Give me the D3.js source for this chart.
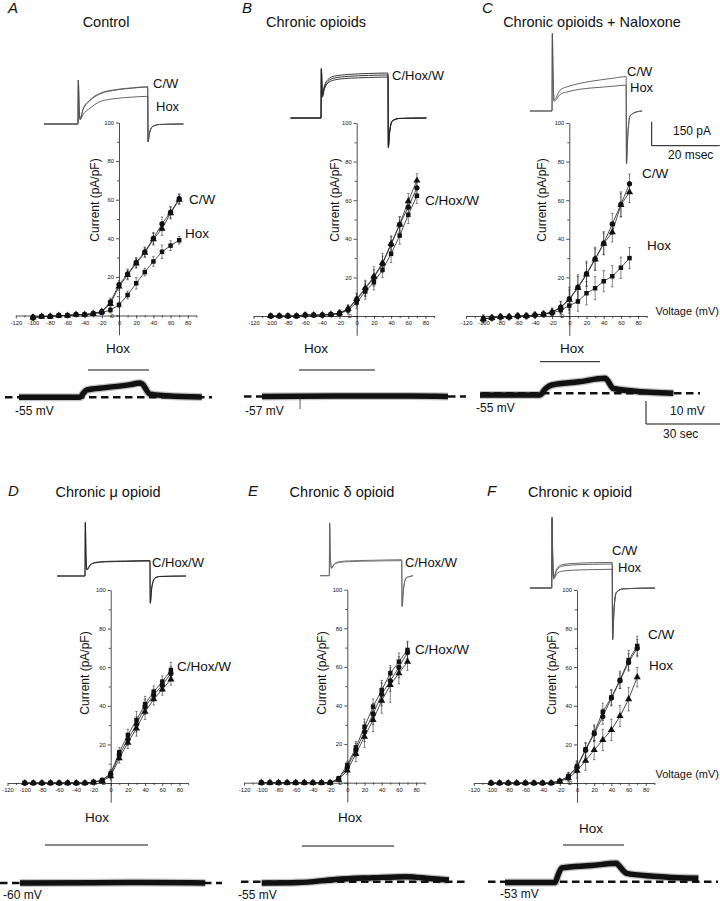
<!DOCTYPE html>
<html><head><meta charset="utf-8">
<script src="https://cdn.jsdelivr.net/npm/d3@7"></script>
<style>
body{margin:0;background:#fff}
svg{display:block}
text{font-family:Arial,"Liberation Sans",sans-serif;fill:#111}
</style></head>
<body><svg id="c" width="720" height="901"></svg>
<script>
// ---------- DATA ----------
const voltages = [-100,-90,-80,-70,-60,-50,-40,-30,-20,-10,0,10,20,30,40,50,60,70];
const xTicks = [-120,-100,-80,-60,-40,-20,0,20,40,60,80];
const yTicks = [0,20,40,60,80,100];

// Panel A: Control
const A_C   = [-1,-0.5,-0.5,0,0,0.5,0.5,1,2,7,16,21.5,27.5,33,40,47.5,53.5,60.5];
const A_W   = [-1,-0.5,-0.5,0,0,0.5,0.5,1,2,6,15,21,27,32.5,39.5,45,53,60];
const A_Hox = [-1,-0.5,-0.5,0,0,0.5,0.5,1,1.5,2.8,5.5,10.6,16.7,22.5,28,33,36.2,39];
const A_C_err   = [1.5,1,1,1,1,0.8,0.8,1,1,2,2,2.5,2.5,2.5,3,3.5,3,2.5];
const A_W_err   = [1.5,1,1,1,1,0.8,0.8,1,1,2,2,2.5,2.5,2.5,3,3.5,3,2.5];
const A_Hox_err = [1.5,1,1,1,1,0.8,0.8,1,1,1.5,1.5,2,3,2,2.5,3.5,2.5,2];
// Panel B: Chronic opioids
const B_C   = [0,0,0,0,0.5,0.5,0.5,0.8,1.5,3.5,8.4,14,20,27,37,47.4,56.4,66.4];
const B_W   = [0,0,0,0,0.5,0.5,0.5,0.8,1.5,3.8,8.8,14.5,20.5,27.5,37.5,47.4,59.5,70.2];
const B_Hox = [0,0,0,0,0.5,0.5,0.5,0.8,1.2,3,7,12.7,17.5,23.9,32.2,41.7,52.4,62.3];
const B_C_err   = [1,1,1,1,1,1,1,1,1.5,2,3,4,4,4,4,4,4,3.5];
const B_W_err   = [1,1,1,1,1,1,1,1,1.5,2,3,4,5,5,4,4,4,3.5];
const B_Hox_err = [1,1,1,1,1,1,1,1,1.5,2,3,4,4,4,4.5,4.5,4.5,4];
// Panel C: Chronic opioids + Naloxone
const C_C   = [-1.5,-1,-0.5,-0.5,0,0,0.5,1,2,4.6,8.9,14.9,21.9,29.6,37.7,47.7,57.8,68.5];
const C_W   = [-1.5,-1,-0.5,-0.5,0,0,0.5,1,2,4.3,8.5,14.5,21.5,29.3,37.5,43.4,57.5,64.2];
const C_Hox = [-1.5,-1,-0.5,-0.5,0,0,0.5,1,1.5,3,5.4,7.5,11.8,14.4,18,20.6,25,30];
const C_C_err   = [2,1.5,1.5,1.5,1.5,1.5,1.5,1.5,2,3,6,6.5,6.5,6,6,5.5,6.5,5];
const C_W_err   = [2,1.5,1.5,1.5,1.5,1.5,1.5,1.5,2,3,5,6,6,5.5,5.5,5,6,5.5];
const C_Hox_err = [1.5,1,1,1,1,1,1,1,1.5,2.5,4,5,6,6,5.5,5.5,5.5,5.5];
// Panel D: Chronic mu opioid
const D_C   = [0,0,0,0,0,0,0,0,0.5,1.5,5,15.9,24.9,32.6,40.9,47.3,52.5,58.5];
const D_W   = [0,0,0,0,0,0,0,0,0.5,1.3,4.5,14.5,22.6,30.4,39.5,45.6,50.7,56.8];
const D_Hox = [0,0,0,0,0,0,0,0,0.3,1,3.5,12.8,20.9,28.3,36.9,43.4,48.5,53.7];
const D_C_err   = [0.5,0.5,0.5,0.5,0.5,0.5,0.5,0.5,0.8,1,2,2.5,3,4.5,4,3,3,4];
const D_W_err   = [0.5,0.5,0.5,0.5,0.5,0.5,0.5,0.5,0.8,1,2,2.5,3,4,4,3,3,3.5];
const D_Hox_err = [0.5,0.5,0.5,0.5,0.5,0.5,0.5,0.5,0.8,1,2,2.5,3,4,4,3,3,3];
// Panel E: Chronic delta opioid
const E_C   = [0,0,0,0,0,0,0,0,0,2.3,9.2,18.3,29,39.4,48,56.7,62.7,68.8];
const E_W   = [0,0,0,0,0,0,0,0,0,2,8,16.9,26.4,35.6,45.8,52.8,59.8,67.4];
const E_Hox = [0,0,0,0,0,0,0,0,0,1.5,6.4,14.9,23.8,32.5,42.5,50.6,56.7,62.7];
const E_C_err   = [0.5,0.5,0.5,0.5,0.5,0.5,0.5,0.5,0.8,1,2,3,4,4,5,4,4.5,4.5];
const E_W_err   = [0.5,0.5,0.5,0.5,0.5,0.5,0.5,0.5,0.8,1,2,3.5,5,5.5,6,5.5,5.5,5];
const E_Hox_err = [0.5,0.5,0.5,0.5,0.5,0.5,0.5,0.5,0.8,1,2,4,5.5,6,6.5,9,5.5,4.5];
// Panel F: Chronic kappa opioid
const F_C   = [0,0,0,0,0,0,0,0,1,3.6,8.5,17.5,26.1,36.9,44.4,53.4,63.7,71];
const F_W   = [0,0,0,0,0,0,0,0,1,3.4,8.2,17,25.5,34.4,44,53,62.5,69.8];
const F_Hox = [0,0,0,0,0,0,0,0,0.8,2.5,6.4,11.6,17.1,22.3,27.5,34.7,43.4,54.8];
const F_C_err   = [0.5,0.5,0.5,0.5,0.5,0.5,0.5,0.5,1,2,3,3.5,4,4.5,4,4.5,5,5];
const F_W_err   = [0.5,0.5,0.5,0.5,0.5,0.5,0.5,0.5,1,2,3,3.5,4,4,4,4,4.5,4.5];
const F_Hox_err = [0.5,0.5,0.5,0.5,0.5,0.5,0.5,0.5,1,2,4,5,5,5.5,5.5,5.5,6,5];

// Current traces [ms, pA]
const A_trC = [[-10,0],[0,0],[0.1,275],[0.3,120],[0.6,35],[1.5,95],[3.5,150],[6.5,192],[11.4,216],[16,226],[20.5,233],[20.6,-112],[21,-60],[22,-15],[24,-3],[31,0]];
const A_trW = [[-10,0],[0,0],[0.1,270],[0.3,115],[0.6,30],[1.5,90],[3.5,146],[6.5,188],[11.4,213],[16,224],[20.5,231],[20.6,-110],[21,-58],[22,-14],[24,-3],[31,0]];
const A_trH = [[-10,0],[0,0],[0.1,275],[0.3,110],[0.6,25],[1.5,60],[3.5,98],[6.5,140],[11.4,160],[16,168],[20.5,173],[20.6,-112],[21,-60],[22,-15],[24,-3],[31,0]];
const B_tr1 = [[-9,0],[0,0],[0.1,312],[0.4,150],[1,200],[2,240],[4,262],[8,272],[14,278],[19.7,281],[19.8,-187],[20.2,-90],[21,-20],[23,-3],[31,0]];
const B_tr2 = [[-9,0],[0,0],[0.1,305],[0.4,140],[1,190],[2,228],[4,250],[8,260],[14,266],[19.7,269],[19.8,-180],[20.2,-85],[21,-18],[23,-3],[31,0]];
const B_tr3 = [[-9,0],[0,0],[0.1,300],[0.4,130],[1,180],[2,218],[4,238],[8,248],[14,253],[19.7,256],[19.8,-175],[20.2,-80],[21,-16],[23,-3],[31,0]];
const C_trC = [[-6.5,0],[0,0],[0.1,487],[0.3,250],[0.6,69],[2.4,131],[5,155],[8.2,173],[14.1,194],[18,205],[21.8,215],[21.9,-331],[22.3,-150],[23,-30],[25,-5],[26.5,0]];
const C_trH = [[-6.5,0],[0,0],[0.1,480],[0.3,240],[0.6,60],[2.4,104],[5,122],[8.2,136],[14.1,148],[18,155],[21.8,162],[21.9,-325],[22.3,-145],[23,-28],[25,-5],[26.5,0]];
const D_tr1 = [[-8.2,0],[0,0],[0.1,337],[0.3,120],[0.6,40],[1.5,70],[3,85],[6,91],[12,94],[19.1,97],[19.2,-171],[19.6,-80],[20.5,-15],[22,-3],[29.7,0]];
const D_tr2 = [[-8.2,0],[0,0],[0.1,330],[0.3,115],[0.6,38],[1.5,66],[3,82],[6,88],[12,91],[19.1,93],[19.2,-168],[19.6,-78],[20.5,-14],[22,-3],[29.7,0]];
const E_tr1 = [[-2.7,0],[0,0],[0.1,330],[0.3,130],[0.6,50],[1.5,75],[3,88],[6,93],[12,96],[21.3,100],[21.4,-194],[21.8,-90],[22.6,-15],[24,-3],[24.6,0]];
const E_tr2 = [[-2.7,0],[0,0],[0.1,325],[0.3,125],[0.6,45],[1.5,70],[3,83],[6,88],[12,91],[21.3,94],[21.4,-190],[21.8,-88],[22.6,-14],[24,-3],[24.6,0]];
const F_trC = [[-6.4,0],[0,0],[0.1,444],[0.3,200],[0.6,70],[1.5,120],[3,145],[6,153],[12,158],[17.8,160],[17.9,-325],[18.3,-150],[19,-30],[21,-5],[30.4,0]];
const F_trW = [[-6.4,0],[0,0],[0.1,440],[0.3,195],[0.6,65],[1.5,112],[3,136],[6,144],[12,148],[17.8,150],[17.9,-320],[18.3,-145],[19,-28],[21,-5],[30.4,0]];
const F_trH = [[-6.4,0],[0,0],[0.1,430],[0.3,180],[0.6,55],[1.5,90],[3,105],[6,111],[12,115],[17.8,117],[17.9,-318],[18.3,-140],[19,-26],[21,-5],[30.4,0]];

// Membrane potential traces [s, mV]
const A_vm = [[0,-54.7],[24.7,-54.7],[26,-53],[27.5,-51.5],[35,-50.5],[45,-49.2],[49,-48.5],[50,-49],[53,-53.3],[60,-54],[74,-54.6]];
const B_vm = [[0,-57],[30,-56.8],[60,-56.8],[75.3,-57]];
const B_glitch = [[15.4,-57],[15.4,-62.5]];
const C_vm = [[0,-55.7],[24.3,-55.7],[26.5,-53],[29,-51.4],[40,-50],[50.6,-48.5],[51.3,-49],[54,-52.9],[62,-54],[78.3,-55]];
const D_vm = [[0,-60],[30,-59.9],[50,-59.8],[75,-60]];
const E_vm = [[0,-55.6],[15,-55.4],[30,-54],[45,-53.3],[58.5,-52.8],[68,-53.6],[75.8,-54.3]];
const F_vm = [[0,-53.4],[20.2,-53.4],[21.5,-50],[23,-47],[35,-46],[45.2,-45],[45.8,-45.6],[49.3,-49.4],[60,-50.6],[78.3,-51.5]];

// ---------- LAYOUT ----------
const PX_MV = 0.86, PX_PA = 1.93;           // IV plot scale
const PX_MS = 3.4, PX_PAtr = 0.16;          // current trace scale
const PX_S = 2.47, PX_MVvm = 2.3;           // Vm trace scale

const panels = [
 {letter:'A', title:'Control', lx:8, ly:13, tx:106, ty:27, ax:119, ay:315.5, ylx:95, yly:200,
  series:[{v:A_C,e:A_C_err,s:'circle'},{v:A_W,e:A_W_err,s:'triangle'},{v:A_Hox,e:A_Hox_err,s:'square'}],
  ivLabels:[['C/W',189,204],['Hox',185,238]],
  tr:{x0:78,y0:124,col:'#555',lines:[A_trC,A_trW,A_trH]}, trLabels:[['C/W',153,88],['Hox',156,111]],
  hox:{tx:118,ty:353,x1:88,x2:149,y:370},
  vm:{x0:19,yref:397.3,ref:-54.7,data:A_vm,d1:5,d2:212,label:'-55 mV',lbx:15,lby:415}},
 {letter:'B', title:'Chronic opioids', lx:242, ly:13, tx:316, ty:27, ax:356.7, ay:316, ylx:335, yly:200,
  series:[{v:B_C,e:B_C_err,s:'circle'},{v:B_W,e:B_W_err,s:'triangle'},{v:B_Hox,e:B_Hox_err,s:'square'}],
  ivLabels:[['C/Hox/W',425,205]],
  tr:{x0:321,y0:118,col:'#222',lines:[B_tr1,B_tr2,B_tr3]}, trLabels:[['C/Hox/W',392,80]],
  hox:{tx:316,ty:353,x1:299,x2:375,y:370},
  vm:{x0:262,yref:396.5,ref:-57,data:B_vm,glitch:B_glitch,d1:244,d2:466,label:'-57 mV',lbx:245,lby:415}},
 {letter:'C', title:'Chronic opioids + Naloxone', lx:482, ly:13, tx:592, ty:27, ax:569.3, ay:316, ylx:542, yly:200,
  series:[{v:C_C,e:C_C_err,s:'circle'},{v:C_W,e:C_W_err,s:'triangle'},{v:C_Hox,e:C_Hox_err,s:'square'}],
  ivLabels:[['C/W',642,178],['Hox',647,250]],
  tr:{x0:552,y0:111,col:'#555',lines:[C_trC,C_trH]}, trLabels:[['C/W',627,76],['Hox',630,92]],
  hox:{tx:572,ty:353,x1:540,x2:600,y:361.7},
  vm:{x0:480,yref:393.3,ref:-55,data:C_vm,d1:482,d2:700,label:'-55 mV',lbx:476,lby:412}},
 {letter:'D', title:'Chronic \u03bc opioid', lx:8, ly:496, tx:108, ty:497, ax:110.7, ay:783, ylx:85, yly:673,
  series:[{v:D_C,e:D_C_err,s:'square'},{v:D_W,e:D_W_err,s:'circle'},{v:D_Hox,e:D_Hox_err,s:'triangle'}],
  ivLabels:[['C/Hox/W',177,671]],
  tr:{x0:85,y0:576,col:'#222',lines:[D_tr1,D_tr2]}, trLabels:[['C/Hox/W',152,567]],
  hox:{tx:97,ty:822,x1:45,x2:148,y:845},
  vm:{x0:20,yref:883,ref:-60,data:D_vm,d1:0,d2:222,label:'-60 mV',lbx:3,lby:899}},
 {letter:'E', title:'Chronic \u03b4 opioid', lx:248, ly:496, tx:342, ty:497, ax:347.3, ay:782.7, ylx:322, yly:673,
  series:[{v:E_C,e:E_C_err,s:'square'},{v:E_W,e:E_W_err,s:'circle'},{v:E_Hox,e:E_Hox_err,s:'triangle'}],
  ivLabels:[['C/Hox/W',415,654]],
  tr:{x0:329.3,y0:575.7,col:'#666',lines:[E_tr1,E_tr2]}, trLabels:[['C/Hox/W',405,567]],
  hox:{tx:350,ty:822,x1:302,x2:394,y:846},
  vm:{x0:261.7,yref:881.7,ref:-55,data:E_vm,d1:241,d2:466,label:'-55 mV',lbx:238,lby:899}},
 {letter:'F', title:'Chronic \u03ba opioid', lx:487, ly:496, tx:580, ty:497, ax:577, ay:783, ylx:552, yly:673,
  series:[{v:F_C,e:F_C_err,s:'square'},{v:F_W,e:F_W_err,s:'circle'},{v:F_Hox,e:F_Hox_err,s:'triangle'}],
  ivLabels:[['C/W',648,639],['Hox',649,670]],
  tr:{x0:551.7,y0:588,col:'#555',lines:[F_trC,F_trW,F_trH]}, trLabels:[['C/W',612,555],['Hox',618,572]],
  hox:{tx:591,ty:833,x1:563,x2:624,y:845},
  vm:{x0:505,yref:881.7,ref:-53,data:F_vm,d1:488,d2:718,label:'-53 mV',lbx:500,lby:898}}
];

// ---------- DRAW ----------
const svg = d3.select('#c');
const sym = {circle:d3.symbolCircle, square:d3.symbolSquare, triangle:d3.symbolTriangle};
const symSize = {circle:22, square:20, triangle:22};

panels.forEach(p => {
  const g = svg.append('g');
  g.append('text').attr('x',p.lx).attr('y',p.ly).attr('font-size',15).attr('font-style','italic').text(p.letter);
  g.append('text').attr('x',p.tx).attr('y',p.ty).attr('font-size',14.5).attr('text-anchor','middle').text(p.title);

  // ----- current traces -----
  const tx = d3.scaleLinear().domain([0,1]).range([p.tr.x0, p.tr.x0 + PX_MS]);
  const ty = d3.scaleLinear().domain([0,1]).range([p.tr.y0, p.tr.y0 - PX_PAtr]);
  const tline = d3.line().x(d=>tx(d[0])).y(d=>ty(d[1])).curve(d3.curveMonotoneX);
  p.tr.lines.forEach(L => g.append('path').attr('d', tline(L)).attr('fill','none')
     .attr('stroke', p.tr.col).attr('stroke-width',0.9));
  p.trLabels.forEach(l => g.append('text').attr('x',l[1]).attr('y',l[2]).attr('font-size',13).text(l[0]));

  // ----- IV plot -----
  const xS = d3.scaleLinear().domain([-120,90]).range([p.ax - 120*PX_MV, p.ax + 90*PX_MV]);
  const yS = d3.scaleLinear().domain([-10,100]).range([p.ay + 10*PX_PA, p.ay - 100*PX_PA]);
  g.append('g').attr('transform',`translate(0,${yS(0)})`)
     .call(d3.axisBottom(xS).tickValues(xTicks).tickSize(3).tickSizeOuter(0).tickPadding(2).tickFormat(d=>String(d)));
  g.append('g').attr('transform',`translate(0,${yS(0)})`)
     .call(d3.axisBottom(xS).tickValues(d3.range(-110,91,20)).tickSize(2).tickSizeOuter(0).tickFormat(''))
     .select('.domain').remove();
  g.append('g').attr('transform',`translate(${xS(0)},0)`)
     .call(d3.axisLeft(yS).tickValues(yTicks).tickSize(3).tickSizeOuter(0).tickPadding(2).tickFormat(d=>String(d)));
  g.append('g').attr('transform',`translate(${xS(0)},0)`)
     .call(d3.axisLeft(yS).tickValues([10,30,50,70,90]).tickSize(2).tickSizeOuter(0).tickFormat(''))
     .select('.domain').remove();
  g.selectAll('.tick text').attr('font-size',5.8).attr('fill','#222');
  g.selectAll('.domain, .tick line').attr('stroke','#222').attr('stroke-width',0.8);

  g.append('text').attr('transform',`translate(${p.ylx},${p.yly}) rotate(-90)`)
    .attr('text-anchor','middle').attr('dy','0.35em').attr('font-size',12).text('Current (pA/pF)');

  const ln = d3.line().x((d,i)=>xS(voltages[i])).y(d=>yS(d));
  p.series.forEach(s => {
    const eb = g.append('g').attr('stroke','#333').attr('stroke-width',0.6);
    s.v.forEach((v,i) => {
      const x = xS(voltages[i]);
      eb.append('line').attr('x1',x).attr('x2',x).attr('y1',yS(v-s.e[i])).attr('y2',yS(v+s.e[i]));
      eb.append('line').attr('x1',x-1.2).attr('x2',x+1.2).attr('y1',yS(v-s.e[i])).attr('y2',yS(v-s.e[i]));
      eb.append('line').attr('x1',x-1.2).attr('x2',x+1.2).attr('y1',yS(v+s.e[i])).attr('y2',yS(v+s.e[i]));
    });
    g.append('path').attr('d', ln(s.v)).attr('fill','none').attr('stroke','#222').attr('stroke-width',0.8);
  });
  p.series.forEach(s => {
    g.selectAll(null).data(s.v).enter().append('path')
      .attr('transform',(d,i)=>`translate(${xS(voltages[i])},${yS(d)})`)
      .attr('d', d3.symbol().type(sym[s.s]).size(symSize[s.s])).attr('fill','#111');
  });
  p.ivLabels.forEach(l => g.append('text').attr('x',l[1]).attr('y',l[2]).attr('font-size',13.5).text(l[0]));

  // ----- Hox bar -----
  g.append('text').attr('x',p.hox.tx).attr('y',p.hox.ty).attr('font-size',13.5).attr('text-anchor','middle').text('Hox');
  g.append('line').attr('x1',p.hox.x1).attr('x2',p.hox.x2).attr('y1',p.hox.y).attr('y2',p.hox.y)
    .attr('stroke','#111').attr('stroke-width',1);

  // ----- membrane potential -----
  const vx = d3.scaleLinear().domain([0,1]).range([p.vm.x0, p.vm.x0 + PX_S]);
  const vy = d3.scaleLinear().domain([p.vm.ref, p.vm.ref+1]).range([p.vm.yref, p.vm.yref - PX_MVvm]);
  g.append('line').attr('x1',p.vm.d1).attr('x2',p.vm.d2).attr('y1',p.vm.yref).attr('y2',p.vm.yref)
    .attr('stroke','#111').attr('stroke-width',2.4).attr('stroke-dasharray','7.5,4.5');
  const vline = d3.line().x(d=>vx(d[0])).y(d=>vy(d[1])).curve(d3.curveMonotoneX);
  g.append('path').attr('d', vline(p.vm.data)).attr('fill','none').attr('stroke','#111')
    .attr('stroke-width',8).attr('opacity',0.25).attr('stroke-linecap','butt');
  g.append('path').attr('d', vline(p.vm.data)).attr('fill','none').attr('stroke','#111')
    .attr('stroke-width',5.5).attr('stroke-linejoin','round').attr('stroke-linecap','butt');
  if (p.vm.glitch) g.append('path').attr('d', d3.line().x(d=>vx(d[0])).y(d=>vy(d[1]))(p.vm.glitch))
    .attr('stroke','#333').attr('stroke-width',0.8);
  g.append('text').attr('x',p.vm.lbx).attr('y',p.vm.lby).attr('font-size',12).text(p.vm.label);
});

// ----- scale bars (panel C) -----
const sb = svg.append('g').attr('stroke','#111').attr('stroke-width',1).attr('fill','none');
const pa = d3.scaleLinear().domain([0,150]).range([145.7, 145.7 - 150*PX_PAtr]);
const ms = d3.scaleLinear().domain([0,20]).range([651.7, 651.7 + 20*PX_MS]);
sb.append('path').attr('d',`M${ms(0)},${pa(150)}V${pa(0)}H${ms(20)}`);
svg.append('text').attr('x',673).attr('y',135).attr('font-size',12).text('150 pA');
svg.append('text').attr('x',668).attr('y',159).attr('font-size',12).text('20 msec');
const mv = d3.scaleLinear().domain([0,10]).range([424, 424 - 10*PX_MVvm]);
const sec = d3.scaleLinear().domain([0,30]).range([646, 646 + 30*PX_S]);
sb.append('path').attr('d',`M${sec(0)},${mv(10)}V${mv(0)}H${sec(30)}`);
svg.append('text').attr('x',670).attr('y',415).attr('font-size',12).text('10 mV');
svg.append('text').attr('x',663).attr('y',438).attr('font-size',12).text('30 sec');
// Voltage axis labels
svg.append('text').attr('x',719).attr('y',315).attr('font-size',11).attr('text-anchor','end').text('Voltage (mV)');
svg.append('text').attr('x',719).attr('y',778).attr('font-size',11).attr('text-anchor','end').text('Voltage (mV)');
</script></body></html>
